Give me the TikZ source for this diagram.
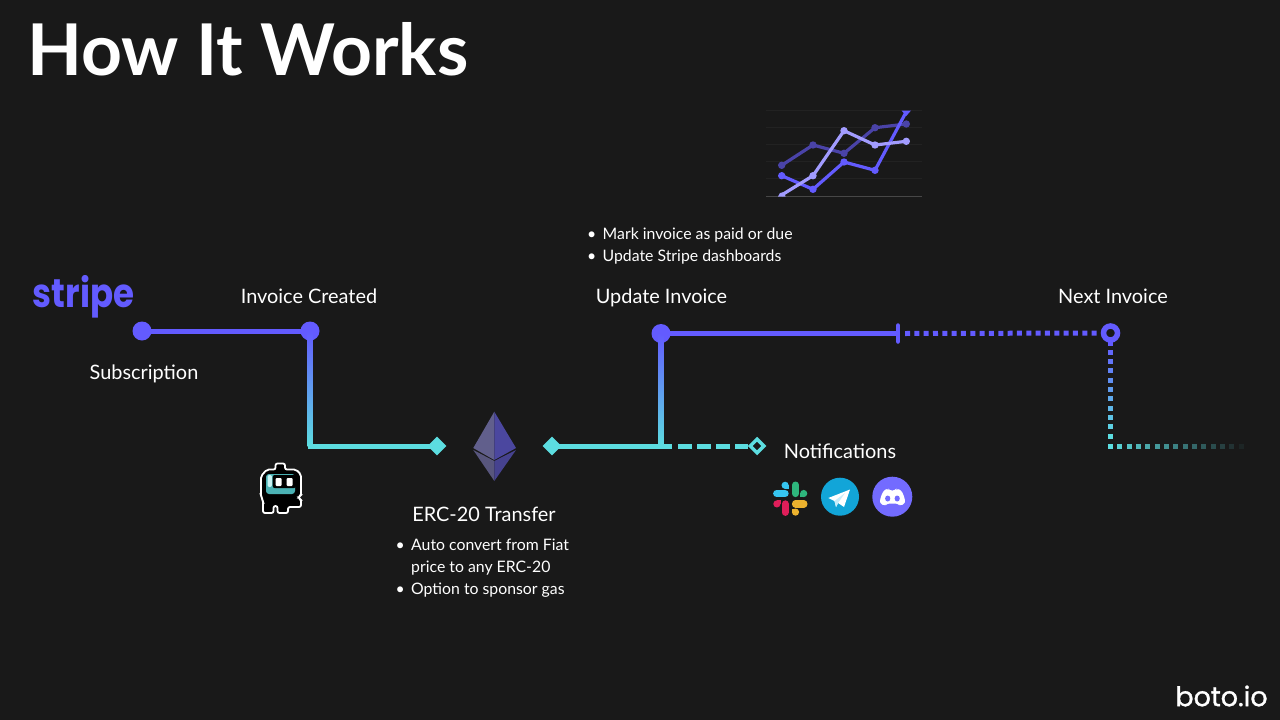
\documentclass[tikz,border=0pt]{standalone}
\usepackage{fontspec}
\setmainfont{Lato}
\newfontfamily\logofont{Poppins}
\newfontfamily\botofont[FakeBold=1.2]{Poppins}
\usetikzlibrary{positioning,shapes.geometric,calc}
\definecolor{bgdark}{HTML}{191919}
\definecolor{purp}{HTML}{635BFF}
\definecolor{aqua}{HTML}{5CDDE0}
\definecolor{chartdark}{HTML}{4A43A8}
\definecolor{chartlight}{HTML}{A29CFF}
\definecolor{tgblue}{HTML}{12A5D8}
\newcommand{\bulletitem}{\makebox[15.5pt][l]{\textbullet}}
\tikzset{
  lbl/.style={text=white,font=\fontsize{19.9}{24}\selectfont,inner sep=0pt,anchor=base},
  bullets/.style={text=white,font=\fontsize{15.8}{22}\selectfont,inner sep=0pt,align=left,anchor=north west},
  dot/.style={circle,fill=purp,minimum size=19pt,inner sep=0pt},
  gem/.style={diamond,fill=aqua,minimum size=19pt,inner sep=0pt},
  wire/.style={line width=5pt},
  series/.style={line width=3.2pt,line join=round},
}
\begin{document}
\begin{tikzpicture}[x=1pt,y=-1pt]
  \fill[bgdark] (0,0) rectangle (1280,720);
  \useasboundingbox (0,0) rectangle (1280,720);
  % title and labels
  \node[text=white,font=\fontsize{71.4}{80}\selectfont\bfseries,inner sep=0pt,anchor=west] (title) at (27,49) {How It Works};
  \node[text=purp,font=\fontsize{40}{44}\logofont\bfseries,inner sep=0pt,xscale=.85] (stripe) at (83.5,297) {stripe};
  \node[lbl] (subscription) at (144,379) {Subscription};
  \node[lbl] (created) at (309,303) {Invoice Created};
  \node[lbl] (update) at (661.5,303) {Update Invoice};
  \node[lbl] (next) at (1113,303) {Next Invoice};
  \node[lbl] (notify) at (840,458) {Notifications};
  \node[lbl] (erc) at (484,521) {ERC-20 Transfer};
  \node[bullets] (paid) at (587,228) {\bulletitem Mark invoice as paid or due\\\bulletitem Update Stripe dashboards};
  \node[bullets] (convert) at (395.5,539) {\bulletitem Auto convert from Fiat\\\hspace{15.5pt}price to any ERC-20\\\bulletitem Option to sponsor gas};
  \node[text=white,font=\fontsize{27}{30}\botofont,inner sep=0pt] (boto) at (1221.5,696) {boto.io};
  % line nodes
  \node[dot] (a) at (142,331) {};
  \node[dot] (b) at (310,331) {};
  \node[dot] (c) at (661,333.5) {};
  \coordinate (corner) at (310,446);
  \coordinate (split) at (661,446);
  \coordinate (tick) at (898,333.5);
  \coordinate (stop) at (672,446);
  \node[gem] (d) at (437,446) {};
  \node[gem] (e) at (552,446) {};
  \node[diamond,draw=aqua,line width=3.5pt,fill=bgdark,minimum size=15pt,inner sep=0pt] (f) at (757,446) {};
  \node[circle,draw=purp,line width=5.5pt,fill=bgdark,minimum size=14pt,inner sep=0pt] (g) at (1110.5,333) {};
  \coordinate (h) at (1110.5,446.7);
  % connectors
  \draw[wire,purp] (a.center) -- (b.center);
  \shade[top color=purp,bottom color=aqua] ([xshift=-2.5]b.center) rectangle ([xshift=2.5]corner);
  \draw[wire,aqua] ([xshift=-2.5]corner) -- (d.center);
  \draw[wire,aqua] (e.center) -- (stop);
  \draw[wire,aqua,dash pattern=on 14pt off 5pt] ([xshift=6]stop) -- (f);
  \shade[top color=purp,bottom color=aqua] ([xshift=-2.5]c.center) rectangle ([xshift=2.5]split);
  \draw[wire,purp] (c.center) -- (tick);
  \draw[purp,line width=4.5pt,line cap=round] ([yshift=-8]tick) -- ([yshift=8]tick);
  \draw[wire,purp,dash pattern=on 5pt off 4.33pt] ([xshift=7]tick) -- (g);
  \fill[purp] ($(g.south)+(-2.5,-1)$) rectangle +(5,4);
  \foreach \i in {0,...,9}{
    \pgfmathsetmacro\mixv{int(10+\i*10)}
    \fill[aqua!\mixv!purp] ($(g)+(-2.5,16.8+\i*9.33)$) rectangle +(5,5);
  }
  \foreach \i in {0,...,15}{
    \pgfmathsetmacro\mixv{int(100-\i*100/15)}
    \fill[aqua!\mixv!bgdark] ($(h)+(-2.5+\i*9.33,-2.5)$) rectangle +(5,5);
  }
  % chart
  \foreach \y in {110.7,127.3,144.3,161.3,178}
    \draw[white!4!bgdark,line width=.8pt] (766,\y) -- (922,\y);
  \draw[white!20!bgdark,line width=.8pt] (766,196.7) -- (922,196.7);
  \draw[series,chartdark] (781.7,165.3) -- (813,145) -- (844,153.3) -- (875,127.7) -- (906.3,124);
  \foreach \p in {(781.7,165.3),(813,145),(844,153.3),(875,127.7),(906.3,124)}
    \fill[chartdark] \p circle (3.7);
  \draw[series,purp] (781.7,175.7) -- (813,189.3) -- (844,162) -- (875,170.3) -- (906.3,111.7);
  \foreach \p in {(781.7,175.7),(813,189.3),(844,162),(875,170.3)}
    \fill[purp] \p circle (3.7);
  \fill[purp] (901.5,110.5) -- (911,110.5) -- (906.3,116) -- cycle;
  \draw[series,chartlight] (781.7,195) -- (813,175.7) -- (844,130.7) -- (875,145) -- (906.3,141.3);
  \foreach \p in {(813,175.7),(844,130.7),(875,145),(906.3,141.3)}
    \fill[chartlight] \p circle (3.7);
  \fill[chartlight] (778,196.5) -- (780,193) -- (784,192) -- (785.5,196.5) -- cycle;
  % ethereum
  \fill[purp!35!gray!78!bgdark] (494.3,411.7) -- (473.3,448) -- (494.3,460) -- cycle;
  \fill[purp!60!bgdark!90!gray] (494.3,411.7) -- (516,448) -- (494.3,460) -- cycle;
  \fill[purp!35!gray!68!bgdark] (473.3,450) -- (494.3,481) -- (494.3,461) -- cycle;
  \fill[purp!52!bgdark!90!gray] (516,450) -- (494.3,481) -- (494.3,461) -- cycle;
  % robot
  \draw[white,line width=1.8pt,fill=black,rounded corners=2pt] (275.5,463.5) -- (285,463.5) -- (285,469.5) -- (296,469.5) -- (301,474.5) -- (301,496) -- (297.5,497.5) -- (301,499) -- (301,507) -- (288,507) -- (288,513) -- (277.5,513) -- (277.5,506) -- (273.5,506) -- (273.5,513) -- (263,513) -- (263,500) -- (261,497) -- (261,476) -- (267,469.5) -- (275.5,469.5) -- cycle;
  \fill[aqua!80!black,rounded corners=3pt] (266,474) rectangle (295,494);
  \fill[aqua!35!white,rounded corners=2pt] (267.5,475) rectangle (272,487);
  \fill[black,rounded corners=2pt] (272.7,475) rectangle (296,488);
  \fill[white,rounded corners=1pt] (275.7,478) rectangle (281.7,486);
  \fill[white,rounded corners=1pt] (286.7,478) rectangle (292.7,486);
  % slack
  \foreach \ang/\col in {0/36C5F0,-90/2EB67D,-180/ECB22E,-270/E01E5A}{
    \definecolor{slackc}{HTML}{\col}
    \begin{scope}[shift={(790.3,498.7)},rotate=\ang]
      \draw[slackc,line width=7.2pt,line cap=round] (-13.6,-5.2) -- (-5.2,-5.2);
      \fill[slackc] (-5.2,-13.4) circle (3.6);
      \fill[slackc] (-5.2,-13.4) rectangle (-1.6,-9.8);
    \end{scope}
  }
  % telegram
  \node[circle,fill=tgblue,minimum size=38pt,inner sep=0pt] (tg) at (840,496.7) {};
  \fill[white] (828.3,498) -- (850,489.5) -- (844,507) -- (838,503) -- (836,507) -- (834.5,501) -- cycle;
  \fill[white!78!cyan] (834.5,501) -- (845,493) -- (838,503) -- (836,507) -- cycle;
  % discord
  \node[circle,fill=purp!90!white,minimum size=40pt,inner sep=0pt] (dc) at (892.3,496.7) {};
  \fill[white,rounded corners=2.5pt] (884,490) -- (888,488.5) -- (889.5,490.5) -- (895,490.5) -- (896.5,488.5) -- (901,490) -- (904,496) -- (905.5,503) -- (900,506) -- (898,503.5) -- (887,503.5) -- (885,506) -- (879.5,503) -- (881,496) -- cycle;
  \fill[purp!90!white] (887.7,498.5) ellipse (2.6 and 3) (897.2,498.5) ellipse (2.6 and 3);
\end{tikzpicture}
\end{document}
